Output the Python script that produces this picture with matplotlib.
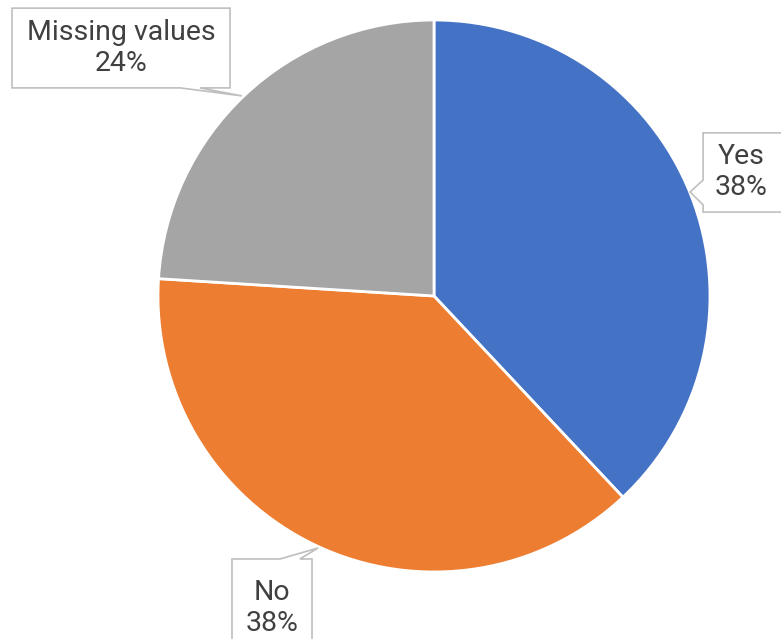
import matplotlib
matplotlib.use("Agg")
import matplotlib.pyplot as plt
from matplotlib.patches import Polygon

labels = ["Yes", "No", "Missing values"]
values = [38, 38, 24]
colors = ["#4472C4", "#ED7D31", "#A5A5A5"]

plt.rcParams['font.family'] = ['Roboto', 'DejaVu Sans']

fig = plt.figure(figsize=(7.81, 6.39), dpi=100)
ax = fig.add_axes([0.2023, 0.1049, 0.7068, 0.8638])

ax.pie(values, colors=colors, startangle=90, counterclock=False, radius=1,
       wedgeprops=dict(edgecolor='white', linewidth=2))
ax.set_xlim(-1, 1)
ax.set_ylim(-1, 1)
ax.set_aspect('equal')
ax.axis('off')

# callout shapes (box + pointer), in axes data units
callouts = {
    "Missing values": [(-1.529, 1.043), (-0.739, 1.043), (-0.739, 0.754), (-0.848, 0.754),
                       (-0.696, 0.725), (-0.92, 0.754), (-1.529, 0.754)],
    "Yes": [(0.975, 0.591), (1.40, 0.591), (1.40, 0.304), (0.975, 0.304), (0.975, 0.33),
            (0.928, 0.377), (0.975, 0.42)],
    "No": [(-0.732, -0.953), (-0.558, -0.953), (-0.42, -0.913), (-0.486, -0.953),
           (-0.442, -0.953), (-0.442, -1.40), (-0.732, -1.40)],
}
text_pos = {
    "Missing values": (-1.134, 0.898, 'center'),
    "Yes": (1.018, 0.45, 'left'),
    "No": (-0.587, -1.13, 'center'),
}

pct = [round(v / sum(values) * 100) for v in values]
for lab, p in zip(labels, pct):
    poly = Polygon(callouts[lab], closed=True, facecolor='white', edgecolor='#BFBFBF',
                   linewidth=1.2, clip_on=False, zorder=5)
    ax.add_patch(poly)
    x, y, ha = text_pos[lab]
    ax.text(x, y, f"{lab}\n{p}%", ha=ha, va='center', multialignment='center',
            fontsize=20.5, color='#404040', linespacing=1.2, zorder=6, clip_on=False)

plt.savefig('out.png', dpi=100)
